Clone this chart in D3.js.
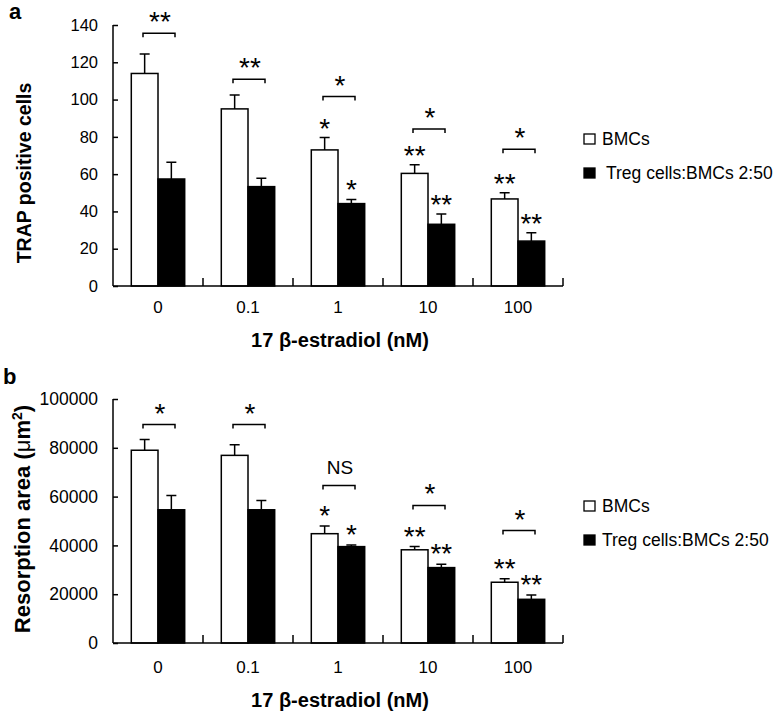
<!DOCTYPE html>
<html>
<head>
<meta charset="utf-8">
<script src="https://cdn.jsdelivr.net/npm/d3@7"></script>
<style>
  html, body { margin: 0; padding: 0; background: #fff; }
  svg { display: block; font-family: "Liberation Sans", Arial, sans-serif; }
</style>
</head>
<body>
<svg id="chart" width="784" height="712"></svg>
<script>
// ---------- data ----------
const categories = ["0", "0.1", "1", "10", "100"];
const seriesNames = ["BMCs", "Treg cells:BMCs 2:50"];
const xTitle = "17 \u03B2-estradiol (nM)";

// Panel a: TRAP positive cells
const trapBMCs = [114, 95, 73, 60.4, 46.7];
const trapBMCsErr = [10.5, 7.5, 6.6, 4.6, 3.3];
const trapTreg = [57.4, 53.3, 44.2, 33.1, 24.1];
const trapTregErr = [9, 4.5, 2.2, 5.5, 4.5];
const trapTicks = [0, 20, 40, 60, 80, 100, 120, 140];
const trapBracketLevel = [135.6, 110.9, 101.6, 84.2, 73.3];
const trapBracketLabel = ["**", "**", "*", "*", "*"];
const trapStarBMCs = ["", "", "*", "**", "**"];
const trapStarTreg = ["", "", "*", "**", "**"];

// Panel b: Resorption area
const resBMCs = [79000, 76900, 44800, 38200, 24900];
const resBMCsErr = [4400, 4400, 3200, 1300, 1400];
const resTreg = [54600, 54600, 39500, 30900, 17900];
const resTregErr = [5800, 3800, 700, 1400, 1800];
const resTicks = [0, 20000, 40000, 60000, 80000, 100000];
const resBracketLevel = [89500, 89500, 64500, 56400, 46100];
const resBracketLabel = ["*", "*", "NS", "*", "*"];
const resStarBMCs = ["", "", "*", "**", "**"];
const resStarTreg = ["", "", "*", "**", "**"];

// ---------- drawing ----------
const svg = d3.select("#chart");
const FONT = "'Liberation Sans', Arial, sans-serif";

function panel(cfg) {
  const g = svg.append("g");
  const x0 = d3.scaleBand().domain(categories).range([cfg.left, cfg.right]).padding(0);
  const x1 = d3.scaleBand().domain(seriesNames).range([18.3, x0.bandwidth() - 18.3]).padding(0);
  const y = d3.scaleLinear().domain([0, cfg.yMax]).range([cfg.bottom, cfg.top]);

  const rows = categories.map((c, i) => ({
    c, i,
    vals: [
      { s: seriesNames[0], v: cfg.a[i], e: cfg.aErr[i], star: cfg.starA[i], fill: "#fff" },
      { s: seriesNames[1], v: cfg.b[i], e: cfg.bErr[i], star: cfg.starB[i], fill: "#000" }
    ]
  }));

  // bars
  const grp = g.selectAll("g.grp").data(rows).join("g")
    .attr("transform", d => `translate(${x0(d.c)},0)`);
  grp.selectAll("rect").data(d => d.vals).join("rect")
    .attr("x", d => x1(d.s))
    .attr("y", d => y(d.v))
    .attr("width", x1.bandwidth())
    .attr("height", d => y(0) - y(d.v))
    .attr("fill", d => d.fill)
    .attr("stroke", "#000")
    .attr("stroke-width", 1.5);
  // error bars
  grp.selectAll("path.err").data(d => d.vals).join("path")
    .attr("class", "err")
    .attr("d", d => {
      const cx = x1(d.s) + x1.bandwidth() / 2;
      return `M${cx},${y(d.v)}V${y(d.v + d.e)}M${cx - 5},${y(d.v + d.e)}H${cx + 5}`;
    })
    .attr("fill", "none").attr("stroke", "#000").attr("stroke-width", 1.5);
  // stars on bars
  grp.selectAll("text.star").data(d => d.vals).join("text")
    .attr("class", "star")
    .attr("x", d => x1(d.s) + x1.bandwidth() / 2)
    .attr("y", d => y(d.v + d.e) - cfg.starGap + 16)
    .attr("text-anchor", "middle")
    .attr("font-size", 28)
    .attr("font-family", FONT)
    .text(d => d.star);

  // brackets
  grp.append("path")
    .attr("d", d => {
      const yy = y(cfg.bLevel[d.i]);
      return `M30,${yy + 4}V${yy}H62V${yy + 4}`;
    })
    .attr("fill", "none").attr("stroke", "#000").attr("stroke-width", 1.5);
  grp.append("text")
    .attr("x", 47)
    .attr("y", d => {
      const yy = y(cfg.bLevel[d.i]);
      return cfg.bLabel[d.i] === "NS" ? yy - 12 : yy - 18 + 16;
    })
    .attr("text-anchor", "middle")
    .attr("font-size", d => cfg.bLabel[d.i] === "NS" ? 19 : 28)
    .attr("font-family", FONT)
    .text(d => cfg.bLabel[d.i]);

  // y axis
  const yAxis = d3.axisLeft(y).tickValues(cfg.ticks).tickFormat(d3.format("d")).tickSize(0).tickPadding(0);
  const ya = g.append("g").attr("transform", `translate(${cfg.left},0)`).call(yAxis);
  ya.select(".domain").remove();
  ya.selectAll("text").attr("x", -15).attr("font-size", cfg.yTickSize).attr("font-family", FONT).attr("fill", "#000");
  ya.selectAll(".tick").append("line").attr("x1", 0).attr("x2", 5).attr("stroke", "#000").attr("stroke-width", 1.5);
  g.append("line").attr("x1", cfg.left).attr("x2", cfg.left)
    .attr("y1", y(0)).attr("y2", y(cfg.yMax)).attr("stroke", "#000").attr("stroke-width", 1.5);

  // x axis
  const xAxis = d3.axisBottom(x0).tickSize(0).tickPadding(0);
  const xa = g.append("g").attr("transform", `translate(0,${cfg.bottom})`).call(xAxis);
  xa.select(".domain").remove();
  xa.selectAll("text").attr("y", cfg.xLabelDy).attr("dy", 0).attr("font-size", 17).attr("font-family", FONT).attr("fill", "#000");
  g.append("line").attr("x1", cfg.left).attr("x2", cfg.right)
    .attr("y1", cfg.bottom).attr("y2", cfg.bottom).attr("stroke", "#000").attr("stroke-width", 1.5);
  g.selectAll("line.xt").data(categories).join("line")
    .attr("class", "xt")
    .attr("x1", d => x0(d) + x0.bandwidth()).attr("x2", d => x0(d) + x0.bandwidth())
    .attr("y1", cfg.bottom).attr("y2", cfg.bottom - 8)
    .attr("stroke", "#000").attr("stroke-width", 1.5);

  // titles
  g.append("text")
    .attr("x", (cfg.left + cfg.right) / 2 + 2)
    .attr("y", cfg.xTitleY)
    .attr("text-anchor", "middle")
    .attr("font-size", 20).attr("font-weight", "bold").attr("font-family", FONT)
    .text(xTitle);
  const yt = g.append("text")
    .attr("transform", `translate(${cfg.yTitleX},${cfg.yTitleCenter}) rotate(-90)`)
    .attr("text-anchor", "middle")
    .attr("font-size", cfg.yTitleSize).attr("font-weight", "bold").attr("font-family", FONT);
  cfg.yTitle(yt);

  // panel letter
  g.append("text").attr("x", cfg.letterX).attr("y", cfg.letterY)
    .attr("font-size", 22).attr("font-weight", "bold").attr("font-family", FONT)
    .text(cfg.letter);

  // legend
  const leg = g.selectAll("g.leg").data(seriesNames).join("g")
    .attr("transform", (d, i) => `translate(584,${cfg.legY + i * 34})`);
  leg.append("rect").attr("x", 0).attr("y", -5).attr("width", 11).attr("height", 10)
    .attr("fill", (d, i) => i === 0 ? "#fff" : "#000")
    .attr("stroke", "#000").attr("stroke-width", 1.3);
  leg.append("text").attr("x", (d, i) => i === 0 ? 18 : cfg.legX2).attr("y", 0).attr("dy", "0.35em")
    .attr("font-size", cfg.legSize).attr("font-family", FONT)
    .text(d => d);
}

panel({
  left: 113, right: 563, top: 25, bottom: 286, yMax: 140,
  a: trapBMCs, aErr: trapBMCsErr, b: trapTreg, bErr: trapTregErr,
  starA: trapStarBMCs, starB: trapStarTreg,
  bLevel: trapBracketLevel, bLabel: trapBracketLabel,
  ticks: trapTicks, yTickSize: 16.5, xLabelDy: 27, starGap: 16,
  xTitleY: 347, yTitleX: 31, yTitleSize: 19.5, yTitleCenter: 173,
  yTitle: t => t.text("TRAP positive cells"),
  letter: "a", letterX: 9, letterY: 19,
  legY: 139, legSize: 17.5, legX2: 22
});

panel({
  left: 113, right: 563, top: 399, bottom: 643, yMax: 100000,
  a: resBMCs, aErr: resBMCsErr, b: resTreg, bErr: resTregErr,
  starA: resStarBMCs, starB: resStarTreg,
  bLevel: resBracketLevel, bLabel: resBracketLabel,
  ticks: resTicks, yTickSize: 17.5, xLabelDy: 30, starGap: 17,
  xTitleY: 707, yTitleX: 30, yTitleSize: 22, yTitleCenter: 519,
  yTitle: t => {
    t.append("tspan").text("Resorption area (");
    t.append("tspan").attr("font-weight", "normal").text("\u03BC");
    t.append("tspan").text("m");
    t.append("tspan").attr("font-size", 14).attr("dy", -8).text("2");
    t.append("tspan").attr("dy", 8).text(")");
  },
  letter: "b", letterX: 3, letterY: 384,
  legY: 506, legSize: 17.5, legX2: 18
});
</script>
</body>
</html>
